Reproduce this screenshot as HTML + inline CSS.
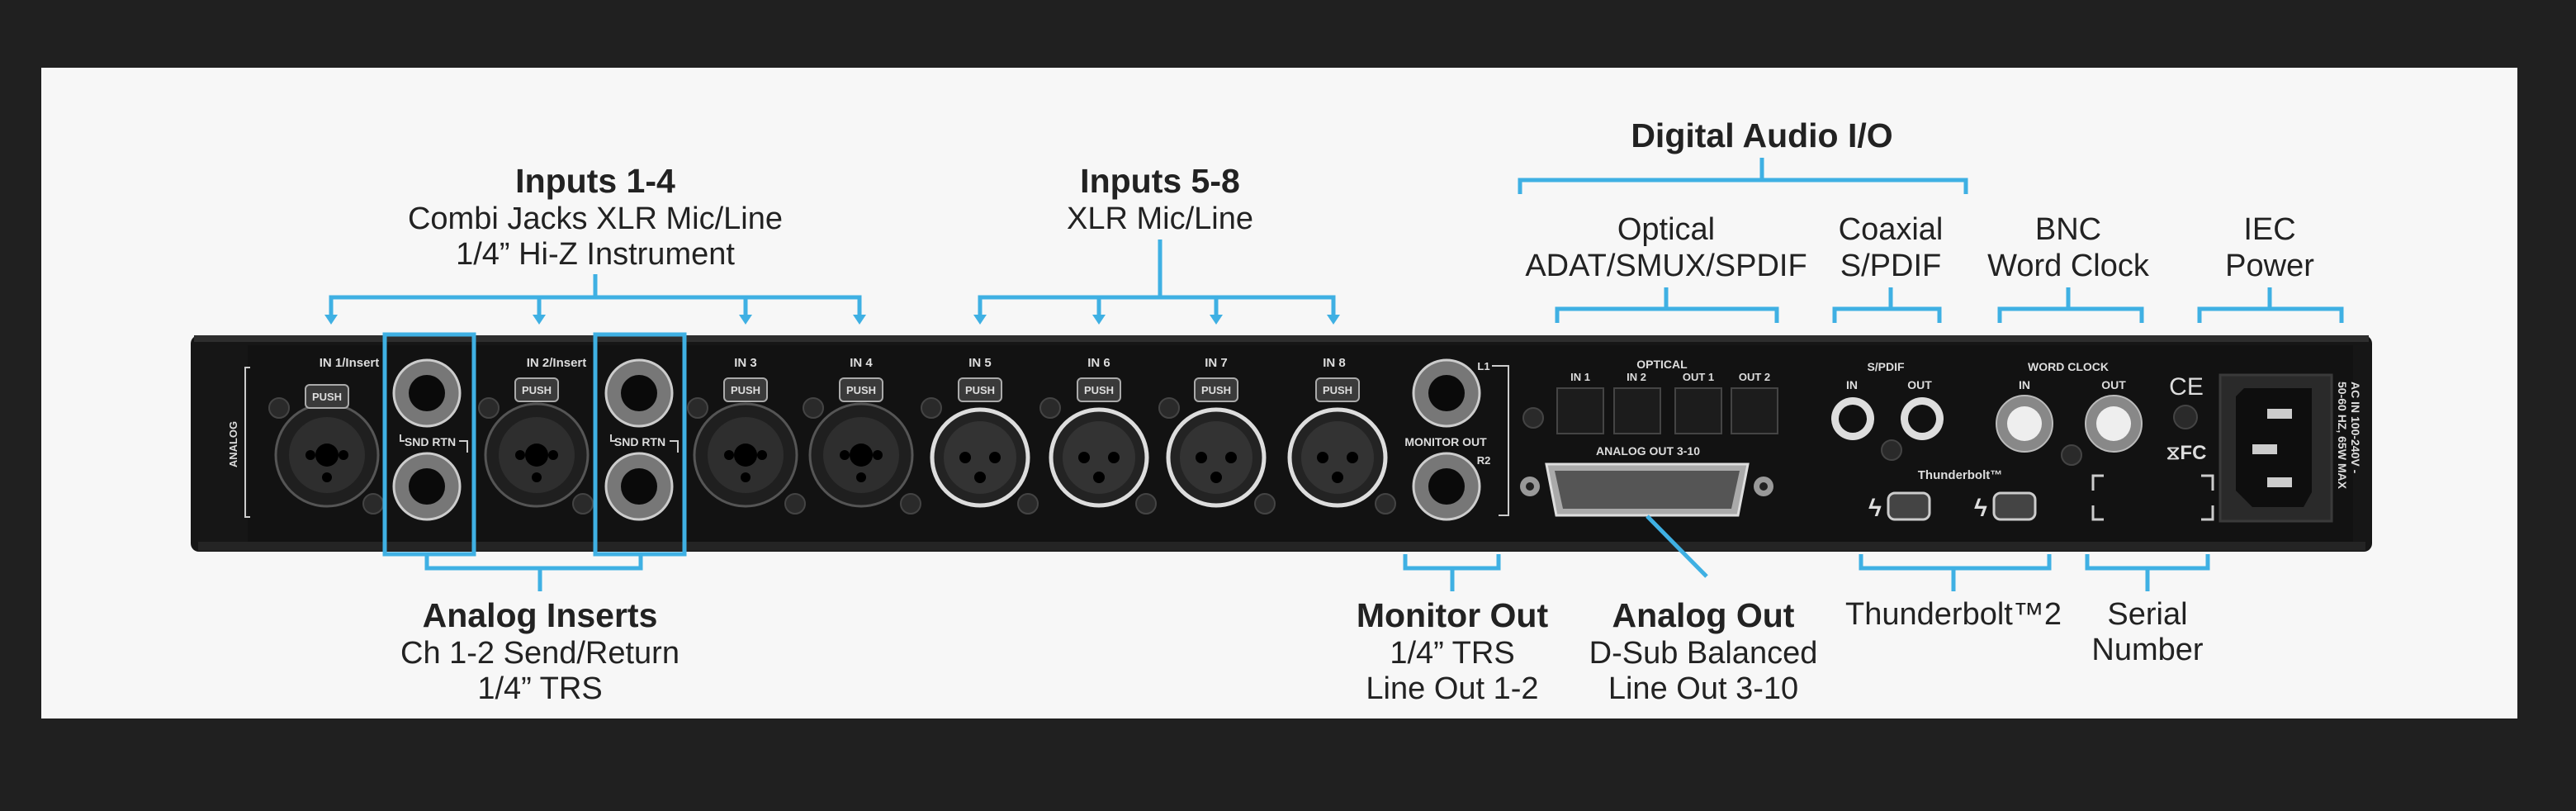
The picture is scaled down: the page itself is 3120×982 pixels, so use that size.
<!DOCTYPE html>
<html><head><meta charset="utf-8"><style>
html,body{margin:0;padding:0;background:#202020;width:3120px;height:982px;overflow:hidden}
svg{display:block}
.t{font-family:"Liberation Sans",sans-serif;fill:#222}
.b{font-weight:bold}
.w{font-family:"Liberation Sans",sans-serif;fill:#ddd;font-weight:bold}
</style></head><body>
<svg width="3120" height="982" viewBox="0 0 3120 982" xmlns="http://www.w3.org/2000/svg">
<rect x="0" y="0" width="3120" height="982" fill="#202020"/>
<rect x="50" y="82" width="2999" height="788" fill="#f7f7f7"/>

<!-- device body -->
<rect x="231" y="406" width="2642" height="262" rx="10" fill="#161616"/>
<rect x="235" y="406" width="2634" height="8" fill="#2e2e2e"/>
<rect x="240" y="656" width="2625" height="11" fill="#242424"/>
<rect x="300" y="418" width="2550" height="238" fill="#121212"/>

<!-- ANALOG bracket -->
<path d="M303 445 H297 V626 H303" stroke="#ccc" stroke-width="2" fill="none"/>
<text class="w" x="0" y="0" font-size="13" transform="translate(287,538) rotate(-90)" text-anchor="middle">ANALOG</text>

<!-- combo jacks -->
<g stroke="#555" stroke-width="3">
<circle cx="396" cy="551" r="62" fill="#1f1f1f"/>
<circle cx="650" cy="551" r="62" fill="#1f1f1f"/>
<circle cx="903" cy="551" r="62" fill="#1f1f1f"/>
<circle cx="1043" cy="551" r="62" fill="#1f1f1f"/>
</g>
<g fill="#2e2e2e">
<circle cx="396" cy="551" r="46"/><circle cx="650" cy="551" r="46"/><circle cx="903" cy="551" r="46"/><circle cx="1043" cy="551" r="46"/>
</g>
<g fill="#000">
<circle cx="396" cy="551" r="14"/><circle cx="376" cy="551" r="6"/><circle cx="416" cy="551" r="6"/><circle cx="396" cy="578" r="6"/>
<circle cx="650" cy="551" r="14"/><circle cx="630" cy="551" r="6"/><circle cx="670" cy="551" r="6"/><circle cx="650" cy="578" r="6"/>
<circle cx="903" cy="551" r="14"/><circle cx="883" cy="551" r="6"/><circle cx="923" cy="551" r="6"/><circle cx="903" cy="578" r="6"/>
<circle cx="1043" cy="551" r="14"/><circle cx="1023" cy="551" r="6"/><circle cx="1063" cy="551" r="6"/><circle cx="1043" cy="578" r="6"/>
</g>
<!-- XLR jacks -->
<g stroke="#ddd" stroke-width="5" fill="#232323">
<circle cx="1187" cy="554" r="58"/><circle cx="1331" cy="554" r="58"/><circle cx="1473" cy="554" r="58"/><circle cx="1620" cy="554" r="58"/>
</g>
<g fill="#333"><circle cx="1187" cy="554" r="44"/><circle cx="1331" cy="554" r="44"/><circle cx="1473" cy="554" r="44"/><circle cx="1620" cy="554" r="44"/></g>
<g fill="#000">
<circle cx="1169" cy="554" r="7"/><circle cx="1205" cy="554" r="7"/><circle cx="1187" cy="578" r="7"/>
<circle cx="1313" cy="554" r="7"/><circle cx="1349" cy="554" r="7"/><circle cx="1331" cy="578" r="7"/>
<circle cx="1455" cy="554" r="7"/><circle cx="1491" cy="554" r="7"/><circle cx="1473" cy="578" r="7"/>
<circle cx="1602" cy="554" r="7"/><circle cx="1638" cy="554" r="7"/><circle cx="1620" cy="578" r="7"/>
</g>
<!-- PUSH tabs -->
<g fill="#3a3a3a" stroke="#aaa" stroke-width="2">
<rect x="370" y="466" width="52" height="28" rx="5"/><rect x="624" y="458" width="52" height="28" rx="5"/>
<rect x="877" y="458" width="52" height="28" rx="5"/><rect x="1017" y="458" width="52" height="28" rx="5"/>
<rect x="1161" y="458" width="52" height="28" rx="5"/><rect x="1305" y="458" width="52" height="28" rx="5"/>
<rect x="1447" y="458" width="52" height="28" rx="5"/><rect x="1594" y="458" width="52" height="28" rx="5"/>
</g>
<g class="w" font-size="13" text-anchor="middle">
<text x="396" y="485">PUSH</text><text x="650" y="477">PUSH</text><text x="903" y="477">PUSH</text><text x="1043" y="477">PUSH</text>
<text x="1187" y="477">PUSH</text><text x="1331" y="477">PUSH</text><text x="1473" y="477">PUSH</text><text x="1620" y="477">PUSH</text>
</g>
<!-- screws -->
<g fill="#2a2a2a" stroke="#444" stroke-width="2">
<circle cx="338" cy="494" r="12"/><circle cx="452" cy="610" r="12"/><circle cx="592" cy="494" r="12"/><circle cx="706" cy="610" r="12"/>
<circle cx="845" cy="494" r="12"/><circle cx="963" cy="610" r="12"/><circle cx="985" cy="494" r="12"/><circle cx="1103" cy="610" r="12"/>
<circle cx="1128" cy="494" r="12"/><circle cx="1245" cy="610" r="12"/><circle cx="1272" cy="494" r="12"/><circle cx="1388" cy="610" r="12"/>
<circle cx="1416" cy="494" r="12"/><circle cx="1532" cy="610" r="12"/><circle cx="1678" cy="610" r="12"/><circle cx="1857" cy="506" r="12"/>
<circle cx="2291" cy="545" r="12"/><circle cx="2509" cy="551" r="12"/><circle cx="2647" cy="505" r="14"/>
</g>
<!-- device labels -->
<g class="w" font-size="15" text-anchor="middle">
<text x="423" y="444">IN 1/Insert</text><text x="674" y="444">IN 2/Insert</text>
<text x="903" y="444">IN 3</text><text x="1043" y="444">IN 4</text><text x="1187" y="444">IN 5</text>
<text x="1331" y="444">IN 6</text><text x="1473" y="444">IN 7</text><text x="1616" y="444">IN 8</text>
<text x="521" y="540" font-size="14">SND RTN</text><text x="775" y="540" font-size="14">SND RTN</text>
<text x="1751" y="540" font-size="14">MONITOR OUT</text>
<text x="1797" y="448" font-size="13">L1</text><text x="1797" y="562" font-size="13">R2</text>
<text x="2013" y="446" font-size="14">OPTICAL</text>
<text x="1914" y="461" font-size="13">IN 1</text><text x="1982" y="461" font-size="13">IN 2</text>
<text x="2057" y="461" font-size="13">OUT 1</text><text x="2125" y="461" font-size="13">OUT 2</text>
<text x="1996" y="551" font-size="14">ANALOG OUT 3-10</text>
<text x="2284" y="449" font-size="14">S/PDIF</text><text x="2243" y="471" font-size="14">IN</text><text x="2325" y="471" font-size="14">OUT</text>
<text x="2505" y="449" font-size="14">WORD CLOCK</text><text x="2452" y="471" font-size="14">IN</text><text x="2560" y="471" font-size="14">OUT</text>
<text x="2374" y="580" font-size="15">Thunderbolt™</text>
<text x="2648" y="478" font-size="30" font-weight="normal">CE</text>
<text x="2648" y="556" font-size="24">⧖FC</text>
</g>
<path d="M485 526 V534 H490 M556 534 H566 V548" stroke="#ccc" stroke-width="2" fill="none"/>
<path d="M740 526 V534 H745 M811 534 H821 V548" stroke="#ccc" stroke-width="2" fill="none"/>
<!-- 1/4 jacks -->
<g fill="#777" stroke="#ccc" stroke-width="3">
<circle cx="517" cy="476" r="40"/><circle cx="517" cy="589" r="40"/>
<circle cx="774" cy="476" r="40"/><circle cx="774" cy="589" r="40"/>
<circle cx="1752" cy="476" r="40"/><circle cx="1752" cy="589" r="40"/>
</g>
<g fill="#0a0a0a">
<circle cx="517" cy="476" r="22"/><circle cx="517" cy="589" r="22"/><circle cx="774" cy="476" r="22"/><circle cx="774" cy="589" r="22"/>
<circle cx="1752" cy="476" r="22"/><circle cx="1752" cy="589" r="22"/>
</g>
<path d="M1807 443 H1827 V624 H1815" stroke="#ccc" stroke-width="2" fill="none"/>
<!-- optical -->
<g fill="#1c1c1c" stroke="#444" stroke-width="2">
<rect x="1886" y="470" width="56" height="55"/><rect x="1955" y="470" width="56" height="55"/>
<rect x="2029" y="470" width="56" height="55"/><rect x="2097" y="470" width="56" height="55"/>
</g>
<!-- dsub -->
<circle cx="1853" cy="589" r="12" fill="#999"/><circle cx="1853" cy="589" r="5" fill="#222"/>
<circle cx="2136" cy="589" r="12" fill="#999"/><circle cx="2136" cy="589" r="5" fill="#222"/>
<path d="M1873 562 H2117 L2105 624 H1885 Z" fill="#aaa" stroke="#ddd" stroke-width="3"/>
<path d="M1883 570 H2107 L2097 616 H1893 Z" fill="#555"/>
<!-- RCA -->
<g fill="#ddd"><circle cx="2244" cy="507" r="26"/><circle cx="2328" cy="507" r="26"/></g>
<g fill="#111"><circle cx="2244" cy="507" r="17"/><circle cx="2328" cy="507" r="17"/></g>
<!-- BNC -->
<g fill="#888" stroke="#bbb" stroke-width="2"><circle cx="2452" cy="513" r="34"/><circle cx="2560" cy="513" r="34"/></g>
<g fill="#eee"><circle cx="2452" cy="513" r="21"/><circle cx="2560" cy="513" r="21"/></g>
<!-- thunderbolt -->
<g fill="#444" stroke="#ccc" stroke-width="3"><rect x="2287" y="597" width="50" height="32" rx="8"/><rect x="2415" y="597" width="50" height="32" rx="8"/></g>
<g class="w" font-size="30"><text x="2263" y="625">ϟ</text><text x="2391" y="625">ϟ</text></g>
<!-- serial corners -->
<path d="M2548 576 H2535 V594 M2535 612 V629 H2548 M2666 576 H2680 V594 M2680 612 V629 H2666" stroke="#ccc" stroke-width="3" fill="none"/>
<!-- IEC -->
<rect x="2689" y="454" width="135" height="177" fill="#2a2a2a" stroke="#3a3a3a" stroke-width="3"/>
<path d="M2718 470 H2800 V596 L2790 614 H2728 L2708 594 V480 Z" fill="#0e0e0e"/>
<g fill="#ccc"><rect x="2746" y="495" width="30" height="12"/><rect x="2728" y="538" width="30" height="12"/><rect x="2746" y="578" width="30" height="12"/></g>
<g class="w" font-size="14"><text transform="translate(2848,462) rotate(90)">AC IN 100-240V -</text><text transform="translate(2832,462) rotate(90)">50-60 HZ, 65W MAX</text></g>

<!-- blue annotations -->
<g stroke="#3fb0e3" stroke-width="5" fill="none">
<path d="M721 332 V360 M401 385 V360 H1041 V385 M653 360 V385 M903 360 V385"/>
<path d="M1405 290 V360 M1187 385 V360 H1615 V385 M1331 360 V385 M1473 360 V385"/>
<path d="M2134 191 V218 M1841 235 V218 H2381 V235"/>
<path d="M2018 348 V374 M1886 391 V374 H2152 V391"/>
<path d="M2290 348 V374 M2222 391 V374 H2349 V391"/>
<path d="M2505 348 V374 M2422 391 V374 H2594 V391"/>
<path d="M2749 348 V374 M2664 391 V374 H2836 V391"/>
<rect x="466" y="405" width="108" height="266"/>
<rect x="721" y="405" width="108" height="266"/>
<path d="M517 671 V688 H776 V671 M654 688 V716"/>
<path d="M1702 671 V688 H1815 V671 M1759 688 V716"/>
<path d="M1995 625 L2067 698"/>
<path d="M2254 671 V688 H2482 V671 M2366 688 V716"/>
<path d="M2528 671 V688 H2674 V671 M2601 688 V716"/>
</g>
<g fill="#3fb0e3">
<path d="M393 381 H409 L401 393 Z"/><path d="M645 381 H661 L653 393 Z"/><path d="M895 381 H911 L903 393 Z"/><path d="M1033 381 H1049 L1041 393 Z"/>
<path d="M1179 381 H1195 L1187 393 Z"/><path d="M1323 381 H1339 L1331 393 Z"/><path d="M1465 381 H1481 L1473 393 Z"/><path d="M1607 381 H1623 L1615 393 Z"/>
</g>

<!-- annotation text -->
<g class="t" text-anchor="middle" font-size="38">
<text class="b" x="721" y="233" font-size="41">Inputs 1-4</text>
<text x="721" y="277">Combi Jacks XLR Mic/Line</text>
<text x="721" y="320">1/4” Hi-Z Instrument</text>
<text class="b" x="1405" y="233" font-size="41">Inputs 5-8</text>
<text x="1405" y="277">XLR Mic/Line</text>
<text class="b" x="2134" y="178" font-size="41">Digital Audio I/O</text>
<text x="2018" y="290">Optical</text><text x="2018" y="334">ADAT/SMUX/SPDIF</text>
<text x="2290" y="290">Coaxial</text><text x="2290" y="334">S/PDIF</text>
<text x="2505" y="290">BNC</text><text x="2505" y="334">Word Clock</text>
<text x="2749" y="290">IEC</text><text x="2749" y="334">Power</text>
<text class="b" x="654" y="759" font-size="41">Analog Inserts</text>
<text x="654" y="803">Ch 1-2 Send/Return</text>
<text x="654" y="846">1/4” TRS</text>
<text class="b" x="1759" y="759" font-size="41">Monitor Out</text>
<text x="1759" y="803">1/4” TRS</text>
<text x="1759" y="846">Line Out 1-2</text>
<text class="b" x="2063" y="759" font-size="41">Analog Out</text>
<text x="2063" y="803">D-Sub Balanced</text>
<text x="2063" y="846">Line Out 3-10</text>
<text x="2366" y="756">Thunderbolt™2</text>
<text x="2601" y="756">Serial</text>
<text x="2601" y="799">Number</text>
</g>
</svg>
</body></html>
